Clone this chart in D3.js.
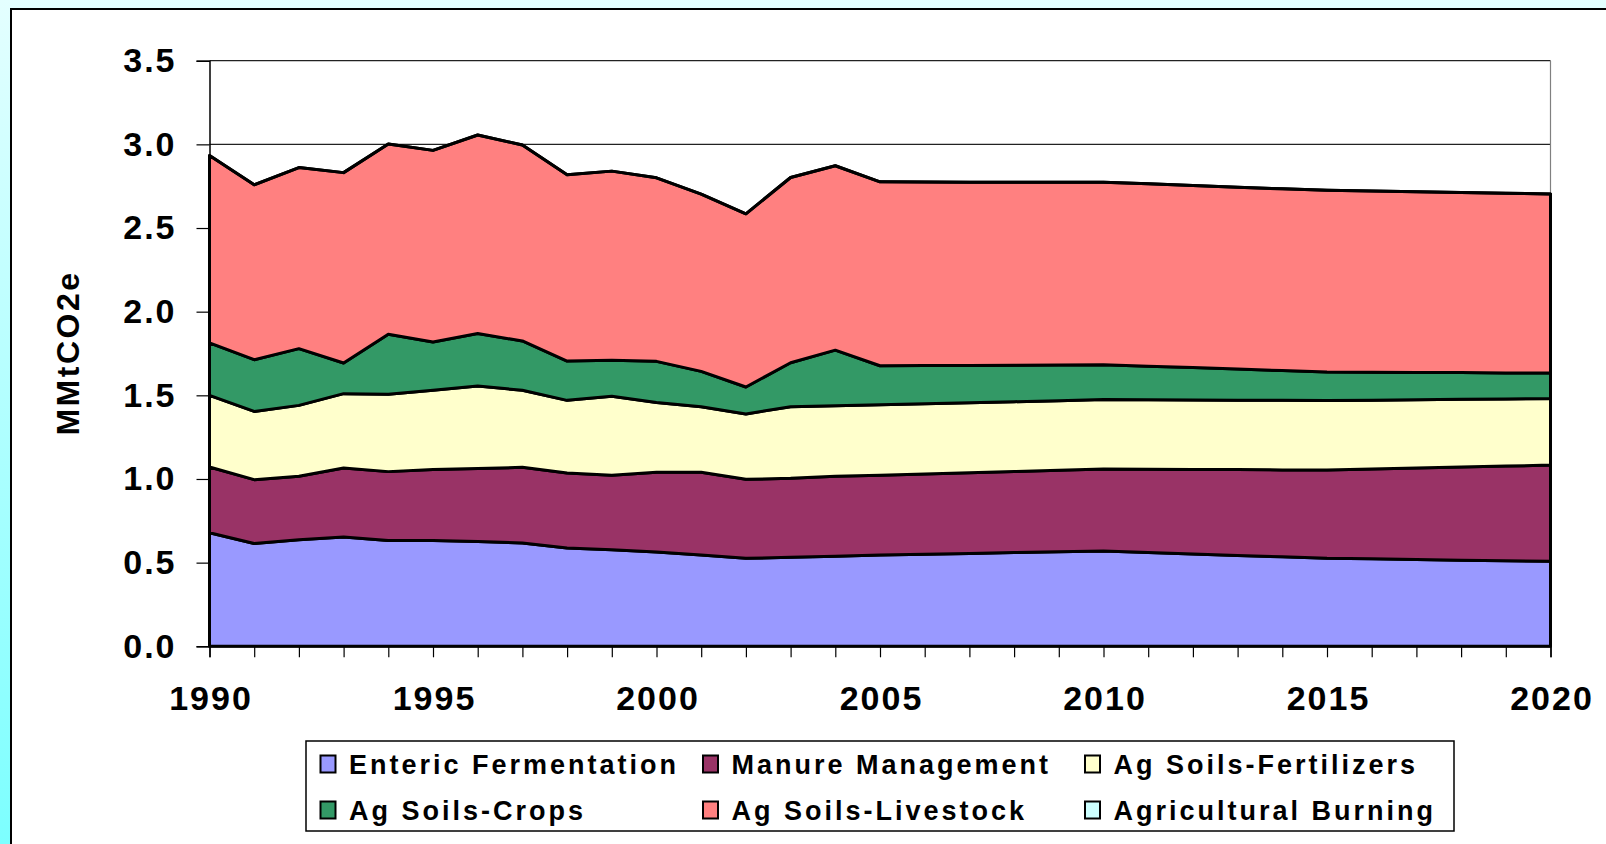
<!DOCTYPE html>
<html>
  <head>
    <meta charset="utf-8">
    <title>Agriculture GHG Emissions</title>
    <script src="https://cdn.jsdelivr.net/npm/d3@7/dist/d3.min.js"></script>
    <style>
      body { margin: 0; overflow: hidden; }
      svg { display: block; }
    </style>
  </head>
  <body>
    <svg></svg>
    <script>
      // chart data, MMtCO2e per source
      let years = [1990, 1991, 1992, 1993, 1994, 1995, 1996, 1997, 1998, 1999,
                   2000, 2001, 2002, 2003, 2004, 2005, 2006, 2007, 2008, 2009,
                   2010, 2011, 2012, 2013, 2014, 2015, 2016, 2017, 2018, 2019, 2020];

      let enteric = [0.679, 0.614, 0.637, 0.653, 0.633, 0.633, 0.627, 0.618, 0.588, 0.577,
                     0.563, 0.545, 0.526, 0.532, 0.538, 0.545, 0.550, 0.555, 0.560, 0.565,
                     0.569, 0.561, 0.552, 0.543, 0.535, 0.526, 0.523, 0.519, 0.515, 0.512, 0.508];

      let manure = [0.393, 0.382, 0.379, 0.413, 0.411, 0.423, 0.435, 0.452, 0.448, 0.445,
                    0.477, 0.495, 0.472, 0.472, 0.478, 0.477, 0.480, 0.482, 0.484, 0.487,
                    0.490, 0.497, 0.505, 0.513, 0.519, 0.527, 0.537, 0.547, 0.557, 0.565, 0.575];

      let fertilizers = [0.428, 0.408, 0.424, 0.444, 0.462, 0.474, 0.494, 0.460, 0.434, 0.473,
                         0.417, 0.392, 0.391, 0.428, 0.422, 0.422, 0.420, 0.419, 0.418, 0.416,
                         0.416, 0.416, 0.415, 0.415, 0.416, 0.416, 0.411, 0.408, 0.404, 0.401, 0.398];

      let crops = [0.313, 0.309, 0.339, 0.183, 0.359, 0.289, 0.313, 0.295, 0.235, 0.214,
                   0.246, 0.211, 0.161, 0.263, 0.332, 0.233, 0.228, 0.223, 0.218, 0.214,
                   0.208, 0.200, 0.194, 0.186, 0.178, 0.170, 0.167, 0.163, 0.160, 0.156, 0.152];

      let livestock = [1.120, 1.045, 1.082, 1.138, 1.137, 1.145, 1.187, 1.171, 1.114, 1.131,
                       1.097, 1.060, 1.035, 1.107, 1.102, 1.099, 1.097, 1.095, 1.094, 1.091,
                       1.090, 1.090, 1.088, 1.087, 1.086, 1.086, 1.083, 1.080, 1.077, 1.074, 1.071];

      let burning = [0, 0, 0, 0, 0, 0, 0, 0, 0, 0,
                     0, 0, 0, 0, 0, 0, 0, 0, 0, 0,
                     0, 0, 0, 0, 0, 0, 0, 0, 0, 0, 0];

      let seriesNames = ["Enteric Fermentation", "Manure Management", "Ag Soils-Fertilizers",
                         "Ag Soils-Crops", "Ag Soils-Livestock", "Agricultural Burning"];
      let seriesColors = ["#9999ff", "#993366", "#ffffcc", "#339966", "#ff8080", "#ccffff"];
      let yTicks = [0, 0.5, 1.0, 1.5, 2.0, 2.5, 3.0, 3.5];
      let xLabels = [1990, 1995, 2000, 2005, 2010, 2015, 2020];

      let fontFamily = `"Liberation Sans", Arial, sans-serif`;
      let w = 1606, h = 844;
      let plot = {left: 209.5, right: 1550.5, top: 60.7, bottom: 646.3};

      let allSeries = [enteric, manure, fertilizers, crops, livestock, burning];
      let dataset = years.map((yr, i) => {
        let row = {year: yr};
        seriesNames.forEach((name, j) => row[name] = allSeries[j][i]);
        return row;
      });

      let svg = d3.select("svg")
                  .attr("width", w)
                  .attr("height", h)
                  .attr("viewBox", `0 0 ${w} ${h}`);

      //page background
      let grad = svg.append("defs")
                    .append("linearGradient")
                    .attr("id", "bg")
                    .attr("x1", 0).attr("y1", 0)
                    .attr("x2", 0).attr("y2", 1);
      grad.append("stop").attr("offset", "0%").attr("stop-color", "#e4ffff");
      grad.append("stop").attr("offset", "100%").attr("stop-color", "#7cffff");

      svg.append("rect")
         .attr("width", w)
         .attr("height", h)
         .attr("fill", "url(#bg)");

      //white chart box, runs off the right and bottom
      svg.append("rect")
         .attr("x", 11)
         .attr("y", 9)
         .attr("width", w + 20)
         .attr("height", h + 20)
         .attr("fill", "white")
         .attr("stroke", "#000")
         .attr("stroke-width", 2);

      let x = d3.scaleLinear()
                .domain([d3.min(years), d3.max(years)])
                .range([plot.left, plot.right]);

      let y = d3.scaleLinear()
                .domain([0, 3.5])
                .range([plot.bottom, plot.top]);

      //gridlines
      svg.append("g")
         .selectAll("line")
         .data(yTicks)
         .enter()
         .append("line")
         .attr("x1", plot.left)
         .attr("x2", plot.right)
         .attr("y1", d => y(d))
         .attr("y2", d => y(d))
         .attr("stroke", "#222")
         .attr("stroke-width", 1.2);

      //right frame edge
      svg.append("line")
         .attr("x1", plot.right)
         .attr("x2", plot.right)
         .attr("y1", plot.top)
         .attr("y2", plot.bottom)
         .attr("stroke", "#808080")
         .attr("stroke-width", 1.2);

      let stack = d3.stack().keys(seriesNames);
      let layers = stack(dataset);

      let area = d3.area()
                   .x(d => x(d.data.year))
                   .y0(d => y(d[0]))
                   .y1(d => y(d[1]));

      svg.append("g")
         .selectAll("path")
         .data(layers)
         .enter()
         .append("path")
         .attr("d", area)
         .attr("fill", (d, i) => seriesColors[i])
         .attr("stroke", "#000")
         .attr("stroke-width", 3)
         .attr("stroke-linejoin", "round");

      //axes
      let yAxis = d3.axisLeft(y)
                    .tickValues(yTicks)
                    .tickFormat(d3.format(".1f"))
                    .tickSize(13)
                    .tickPadding(20);

      let yG = svg.append("g")
                  .attr("transform", `translate(${plot.left},0)`)
                  .call(yAxis);

      let xAxis = d3.axisBottom(x)
                    .tickValues(years)
                    .tickFormat(d => xLabels.includes(d) ? d : "")
                    .tickSize(11)
                    .tickPadding(29);

      let xG = svg.append("g")
                  .attr("transform", `translate(0,${plot.bottom})`)
                  .call(xAxis);

      [yG, xG].forEach(g => {
        g.select(".domain").attr("stroke", "#000").attr("stroke-width", 1.5);
        g.selectAll(".tick line").attr("stroke", "#000").attr("stroke-width", 1.2);
        g.selectAll("text")
         .attr("font-family", fontFamily)
         .attr("font-weight", "bold")
         .attr("font-size", 34)
         .attr("letter-spacing", 2)
         .attr("fill", "#000");
      });

      xG.selectAll("text").attr("dx", 1);

      //y axis title
      svg.append("text")
         .attr("transform", "translate(68,353) rotate(-90)")
         .attr("text-anchor", "middle")
         .attr("dominant-baseline", "central")
         .attr("font-family", fontFamily)
         .attr("font-weight", "bold")
         .attr("font-size", 32)
         .attr("letter-spacing", 2.5)
         .text("MMtCO2e");

      //legend
      let legendCols = [320.5, 703, 1085];
      let legendRows = [764, 810];

      svg.append("rect")
         .attr("x", 306)
         .attr("y", 741)
         .attr("width", 1148)
         .attr("height", 90)
         .attr("fill", "white")
         .attr("stroke", "#000")
         .attr("stroke-width", 1.5);

      let items = svg.append("g")
                     .selectAll("g")
                     .data(seriesNames)
                     .enter()
                     .append("g")
                     .attr("transform", (d, i) =>
                       `translate(${legendCols[i % 3]},${legendRows[Math.floor(i / 3)]})`);

      items.append("rect")
           .attr("x", 0)
           .attr("y", -8.5)
           .attr("width", 15)
           .attr("height", 17)
           .attr("fill", (d, i) => seriesColors[i])
           .attr("stroke", "#000")
           .attr("stroke-width", 2);

      items.append("text")
           .attr("x", 28.5)
           .attr("y", 9.5)
           .attr("font-family", fontFamily)
           .attr("font-weight", "bold")
           .attr("font-size", 27)
           .attr("letter-spacing", 3)
           .text(d => d);
    </script>
  </body>
</html>
